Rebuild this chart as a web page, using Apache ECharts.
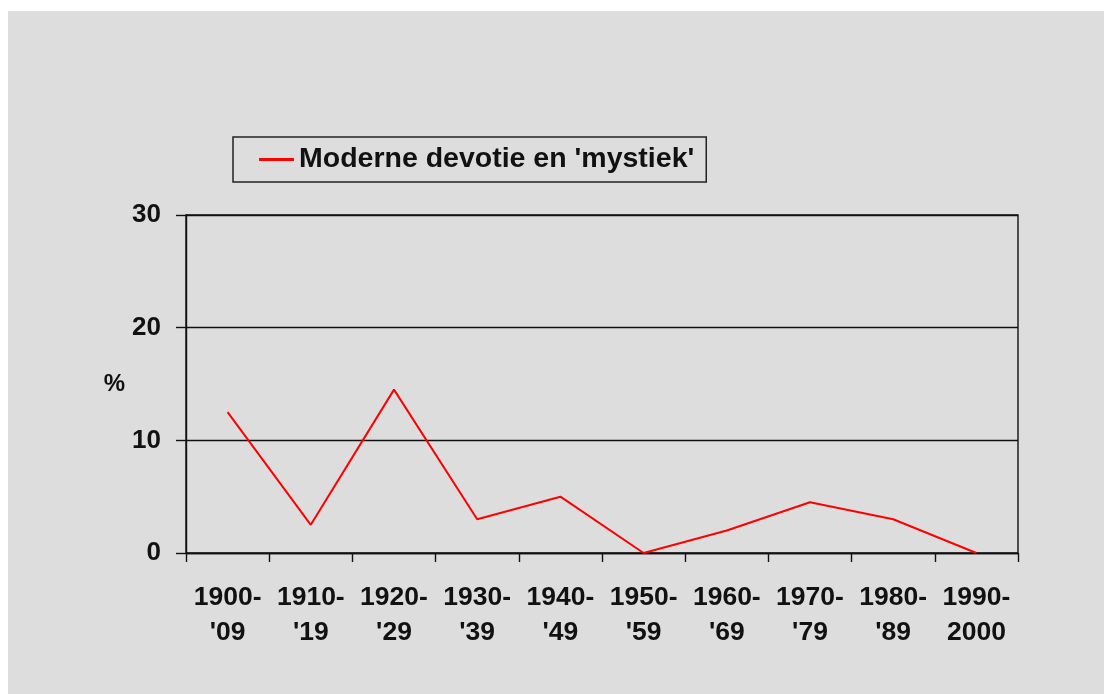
<!DOCTYPE html>
<html>
<head>
<meta charset="utf-8">
<script src="https://cdn.jsdelivr.net/npm/echarts@6/dist/echarts.min.js"></script>
<style>
html,body{margin:0;padding:0;background:#ffffff;}
#chart{width:1104px;height:694px;}
</style>
</head>
<body>
<div id="chart"></div>
<script>
const categories = ["1900-\n'09","1910-\n'19","1920-\n'29","1930-\n'39","1940-\n'49","1950-\n'59","1960-\n'69","1970-\n'79","1980-\n'89","1990-\n2000"];
const seriesName = "Moderne devotie en 'mystiek'";
const values = [12.5, 2.5, 14.5, 3, 5, 0, 2, 4.5, 3, 0];
const yTicks = [0, 10, 20, 30];

const FONT = "'Liberation Sans', Arial, sans-serif";
const chart = echarts.init(document.getElementById('chart'));
chart.setOption({
  animation: false,
  backgroundColor: '#ffffff',
  graphic: [{
    type: 'rect', left: 8, top: 11, z: -10,
    shape: {width: 1096, height: 683},
    style: {fill: '#dddddd'}
  }],
  legend: {
    left: 233, top: 137,
    padding: [8, 12, 8, 26],
    borderColor: '#222', borderWidth: 1.5,
    itemWidth: 35, itemHeight: 3, itemGap: 6,
    icon: 'rect',
    textStyle: {fontFamily: FONT, fontWeight: 'bold', fontSize: 28.5, color: '#111'},
    data: [{name: seriesName, itemStyle: {color: '#ff0000'}}]
  },
  grid: {
    left: 186, top: 215, width: 832, height: 338,
    show: true, borderColor: '#111', borderWidth: 1.4, backgroundColor: 'transparent'
  },
  xAxis: {
    type: 'category', data: categories, boundaryGap: true,
    axisLine: {lineStyle: {color: '#111', width: 1.4}},
    axisTick: {show: true, inside: false, length: 9, lineStyle: {color: '#111', width: 1.4}},
    axisLabel: {margin: 27, interval: 0, fontFamily: FONT, fontWeight: 'bold', fontSize: 26.5, lineHeight: 35, color: '#111'}
  },
  yAxis: {
    type: 'value', min: 0, max: 30, interval: 10,
    name: '%', nameLocation: 'middle', nameRotate: 0, nameGap: 61,
    nameTextStyle: {fontFamily: FONT, fontWeight: 'bold', fontSize: 24, color: '#111', padding: [10, 0, 0, 0]},
    axisLine: {show: true, lineStyle: {color: '#111', width: 1.4}},
    axisTick: {show: true, length: 10, lineStyle: {color: '#111', width: 1.4}},
    splitLine: {show: true, lineStyle: {color: '#111', width: 1.4}},
    axisLabel: {margin: 25, fontFamily: FONT, fontWeight: 'bold', fontSize: 26, color: '#111', padding: [4, 0, 0, 0],
      formatter: v => yTicks.includes(v) ? String(v) : ''}
  },
  series: [{
    name: seriesName, type: 'line', data: values,
    symbol: 'none', lineStyle: {color: '#ff0000', width: 2},
    itemStyle: {color: '#ff0000'}
  }]
});
</script>
</body>
</html>
